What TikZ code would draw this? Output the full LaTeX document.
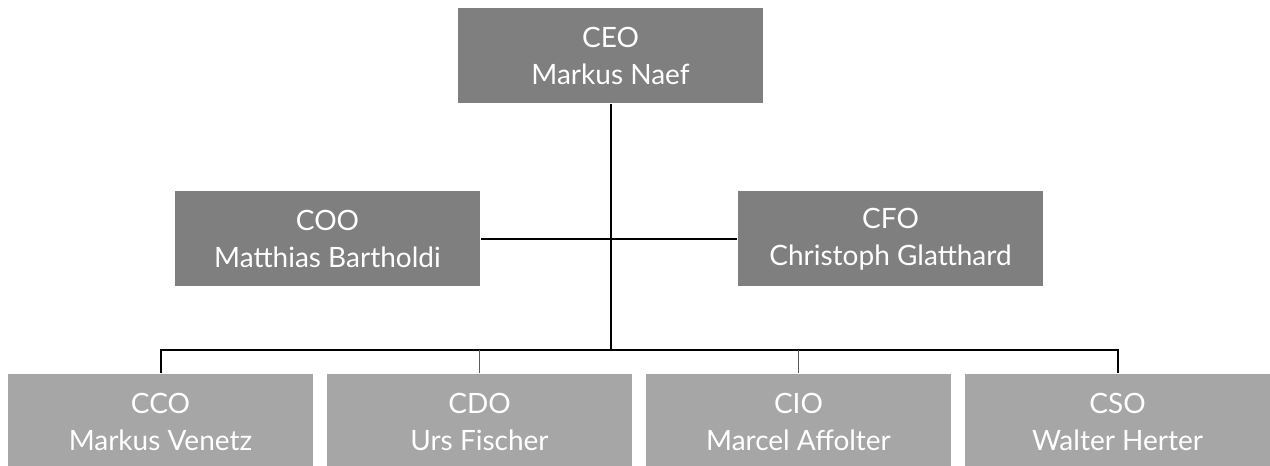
\documentclass[tikz,border=0pt]{standalone}
\usepackage{fontspec}
\setmainfont{Lato}
\usepackage{xcolor}
\usepackage{tikz}
\usetikzlibrary{calc, positioning}
\definecolor{headgrey}{HTML}{7F7F7F}
\definecolor{teamgrey}{HTML}{A6A6A6}
\definecolor{dropgrey}{HTML}{595959}

\begin{document}
\begin{tikzpicture}[x=1bp, y=1bp, line width=2bp,
			head/.style={fill=headgrey, text=white, minimum width=305bp, minimum height=95bp,
				inner sep=0pt, align=center, font=\fontsize{28bp}{37bp}\selectfont},
			team/.style={head, fill=teamgrey},
			drop/.style={draw=dropgrey, line width=1.3bp}]
	\useasboundingbox (0, 0) rectangle (1270, 466);
	\node[head] (ceo) at (610.5, 410.5) {CEO\\Markus Naef};
	\node[head] (coo) at (327.5, 227) {COO\\Matthias Bartholdi};
	\node[head] (cfo) at (890.5, 227) {CFO\\Christoph Glatthard};
	\node[team] (cco) at (160.5, 44.5) {CCO\\Markus Venetz};
	\node[team] (cdo) at (479.5, 44.5) {CDO\\Urs Fischer};
	\node[team] (cio) at (798.5, 44.5) {CIO\\Marcel Affolter};
	\node[team] (cso) at (1117.5, 44.5) {CSO\\Walter Herter};
	\coordinate (bus) at (610.5, 116);

	\draw (ceo) -- (bus);
	\draw (coo) -- (cfo);
	\draw (cco) |- (bus) -| (cso);
	\draw[drop] (cdo) -- (cdo |- bus);
	\draw[drop] (cio) -- (cio |- bus);
\end{tikzpicture}
\end{document}
